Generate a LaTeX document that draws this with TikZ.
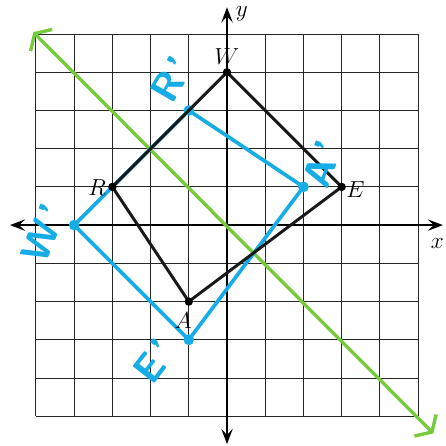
\documentclass[tikz,border=0pt]{standalone}
\usepackage{amsmath}
\usetikzlibrary{arrows.meta}
\definecolor{penblue}{RGB}{22,172,230}
\definecolor{pengreen}{RGB}{118,202,60}
\tikzset{
  grd/.style   = {line width=0.7pt, black!85},
  axis/.style  = {line width=1pt,
                  {Stealth[length=4mm, width=3mm, inset=1.6mm]}-{Stealth[length=4mm, width=3mm, inset=1.6mm]}},
  mirror/.style= {line width=2.5pt, pengreen, line cap=round,
                  {Straight Barb[length=2.5mm, width=8mm, line width=2.5pt]}-{Straight Barb[length=2.5mm, width=8mm, line width=2.5pt]}},
  orig/.style  = {line width=2.2pt, black!90, line join=round},
  imag/.style  = {line width=2.7pt, penblue, line join=round},
  lbl/.style   = {font=\LARGE, inner sep=1pt},
  hand/.style  = {font=\Huge\sffamily\bfseries, text=penblue, inner sep=0pt, scale=1.2},
}
\begin{document}
\begin{tikzpicture}[x=1cm, y=1cm]
  \useasboundingbox (-5.94,-5.76) rectangle (5.73,5.89);
  % grid
  \draw[grd] (-5,-5) grid (5,5);
  % axes
  \coordinate (xl) at (-5.68,0);
  \coordinate (xr) at ( 5.65,0);
  \coordinate (yb) at (0,-5.73);
  \coordinate (yt) at (0, 5.70);
  \draw[axis] (xl) -- (xr);
  \draw[axis] (yb) -- (yt);
  \node[lbl] (xlab) at (5.5,-0.47) {$x$};
  \node[lbl] (ylab) at (0.39,5.52) {$y$};
  % line of reflection
  \coordinate (m1) at (-5.07, 5.05);
  \coordinate (m2) at ( 5.40,-5.45);
  \draw[mirror] (m1) -- (m2);
  % vertices
  \coordinate (R) at (-3, 1);
  \coordinate (W) at ( 0, 4);
  \coordinate (E) at ( 3, 1);
  \coordinate (A) at (-1,-2);
  \coordinate (R1) at (-1, 3);
  \coordinate (W1) at (-4, 0);
  \coordinate (E1) at (-1,-3);
  \coordinate (A1) at ( 2, 1);
  % image
  \draw[imag] (R1) -- (A1) -- (E1) -- (W1) -- cycle;
  \foreach \p in {R1, W1, E1, A1}
    \fill[penblue] (\p) circle (0.14);
  % original
  \draw[orig] (R) -- (W) -- (E) -- (A) -- cycle;
  \foreach \p in {R, W, E, A}
    \fill[black] (\p) circle (0.11);
  \node[lbl] (Wl) at ( 0.00, 4.42) {$W$};
  \node[lbl] (Rl) at (-3.40, 0.97) {$R$};
  \node[lbl] (El) at ( 3.36, 0.92) {$E$};
  \node[lbl] (Al) at (-1.15,-2.51) {$A$};
  % handwritten labels
  \node[hand, rotate=60] (R1l) at (-1.44, 3.82) {R\kern3pt'};
  \node[hand, rotate=68] (W1l) at (-4.79,-0.22) {W\kern3pt'};
  \node[hand, rotate=52] (E1l) at (-1.90,-3.55) {E\kern3pt'};
  \node[hand, rotate=70] (A1l) at ( 2.49, 1.60) {A\kern3pt'};
\end{tikzpicture}
\end{document}
